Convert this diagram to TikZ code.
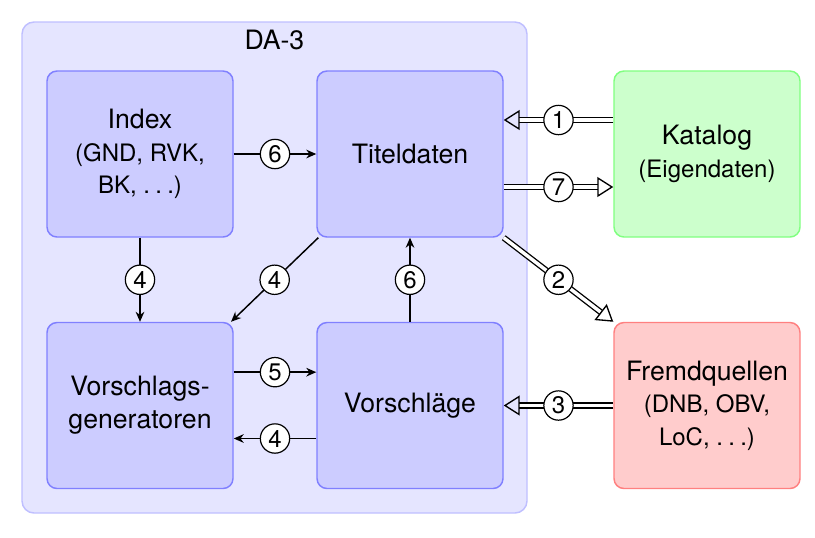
\documentclass[tikz,border=0pt]{standalone}
\usepackage{fontspec}
\setmainfont{TeX Gyre Heros}
\usetikzlibrary{arrows.meta,positioning}
\newcommand{\mydots}{.\kern.22em.\kern.22em.}
\newcommand{\subsz}{\fontsize{18}{24.5}\selectfont}
\tikzset{
  box/.style={draw=blue!50, fill=blue!20, line width=1.1pt, rounded corners=7.5pt,
    minimum width=139.5pt, minimum height=124.5pt, align=center,
    font=\fontsize{20}{24.5}\selectfont},
  num/.style={circle, draw, fill=white, line width=0.9pt, inner sep=0pt,
    minimum size=22pt, font=\fontsize{18}{20}\selectfont},
  sarrow/.style={line width=1.1pt, -{Stealth[length=7.5pt,width=6.5pt]}},
  darrow/.style={double, double distance=2.6pt, line width=1pt,
    -{Triangle[open,length=12pt,width=15pt]}},
}
\begin{document}
\begin{tikzpicture}[x=0.75pt,y=-0.75pt]
\useasboundingbox (0,0) rectangle (815,537);
\node[draw=blue!25, fill=blue!10, line width=1.1pt, rounded corners=9pt,
      minimum width=378.75pt, minimum height=368.25pt] (da) at (274.5,267.5) {};
\node[below=3pt, font=\fontsize{20}{24}\selectfont] (dalabel) at (da.north) {DA-3};
\node[box] (index) at (140,154) {Index\\{\subsz(GND, RVK,}\\{\subsz BK, \mydots)}};
\node[box] (titel) at (410,154) {Titeldaten};
\node[box] (vgen) at (140,405.5) {Vorschlags-\\generatoren};
\node[box] (vor) at (410,405.5) {Vorschläge};
\node[box, draw=green!50, fill=green!20] (kat) at (707,154) {Katalog\\{\subsz(Eigendaten)}};
\node[box, draw=red!50, fill=red!20] (fremd) at (707,405.5) {Fremdquellen\\{\subsz(DNB, OBV,}\\{\subsz LoC, \mydots)}};

\draw[darrow] ([yshift=25.5pt]kat.west) -- node[num]{1} ([yshift=25.5pt]titel.east);
\draw[darrow] ([yshift=-24.75pt]titel.east) -- node[num]{7} ([yshift=-24.75pt]kat.west);
\draw[darrow] (titel.south east) -- node[num]{2} (fremd.north west);
\draw[darrow] (fremd.west) -- node[num]{3} (vor.east);

\draw[sarrow] (index.east) -- node[num]{6} (titel.west);
\draw[sarrow] (index.south) -- node[num]{4} (vgen.north);
\draw[sarrow] ([xshift=1.5pt]titel.south west) -- node[num]{4} ([xshift=-2pt]vgen.north east);
\draw[sarrow] (vor.north) -- node[num]{6} (titel.south);
\draw[sarrow] ([yshift=25pt]vgen.east) -- node[num]{5} ([yshift=25pt]vor.west);
\draw[sarrow] ([yshift=-24.75pt]vor.west) -- node[num]{4} ([yshift=-24.75pt]vgen.east);
\end{tikzpicture}
\end{document}
